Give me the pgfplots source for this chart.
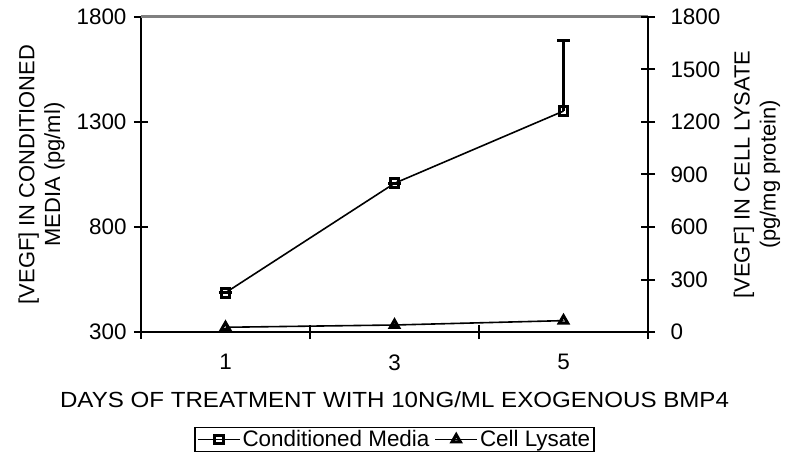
\documentclass[border=0pt]{standalone}
\usepackage{pgfplots}
\pgfplotsset{compat=1.18}
\usepackage{fontspec}
\setmainfont{Liberation Sans}
\newfontfamily\widefont{Liberation Sans}[FakeStretch=1.1]
\begin{document}
\begin{tikzpicture}
\useasboundingbox (-141bp,-130bp) rectangle (645bp,332bp);
\pgfplotsset{
  every axis/.append style={
    scale only axis, width=507bp, height=315bp, at={(0,0)}, anchor=south west,
    xmin=0, xmax=3,
    /pgf/number format/assume math mode=true,
    /pgf/number format/1000 sep={},
    tick label style={font=\fontsize{22.5}{26}\selectfont},
    label style={font=\fontsize{22}{26}\selectfont},
    major tick length=14bp, minor tick length=14bp, tick align=center,
    every tick/.style={line width=2bp, black},
    clip=false,
  }
}
\begin{axis}[
  axis x line*=bottom, axis y line*=left,
  x axis line style={line width=2.8bp, black},
  y axis line style={line width=2.8bp, black},
  ymin=300, ymax=1800, ytick={300,800,1300,1800},
  yticklabel style={xshift=-4bp},
  xtick={0.5,1.5,2.5}, xticklabels={1,3,5},
  major x tick style={draw=none},
  minor xtick={0,1,2,3},
  minor x tick style={line width=2bp, black},
  xticklabel style={yshift=-12bp},
  xlabel={\widefont\fontsize{22}{26}\selectfont DAYS OF TREATMENT WITH 10NG/ML EXOGENOUS BMP4},
  xlabel style={at={(axis description cs:0.5,0)}, anchor=center, yshift=-68bp},
  ylabel={\fontsize{22}{26}\selectfont [VEGF] IN CONDITIONED\\MEDIA (pg/ml)},
  ylabel style={at={(axis description cs:-0.196,0.5)}, anchor=center, align=center, font=\fontsize{22}{26}\selectfont},
]
\draw[line width=3bp, gray] (rel axis cs:0,1) -- (rel axis cs:1,1);
\addplot[black, line width=1.6bp, mark=square, mark size=4.4bp,
  mark options={line width=3bp, fill=white, solid},
  error bars/.cd, y dir=plus, y explicit,
  error bar style={line width=3bp, black},
  error mark options={rotate=90, mark size=6.5bp, line width=3bp}]
  coordinates {(0.5,487) +- (0,0) (1.5,1008) +- (0,0) (2.5,1352) +- (0,335)};
\end{axis}
\begin{axis}[
  axis x line=none, axis y line*=right,
  y axis line style={line width=2.8bp, black},
  ymin=0, ymax=1800, ytick={0,300,600,900,1200,1500,1800},
  yticklabel style={xshift=12bp},
  ylabel={\fontsize{22}{26}\selectfont [VEGF] IN CELL LYSATE\\(pg/mg protein)},
  ylabel style={at={(axis description cs:1.215,0.5)}, anchor=center, align=center, font=\fontsize{22}{26}\selectfont},
  legend columns=2,
  legend style={at={(axis description cs:0.5,-0.3016)}, anchor=north, draw=black, line width=1.2bp,
    font=\fontsize{22.5}{26}\selectfont, inner xsep=2bp, inner ysep=1bp,
    /tikz/every even column/.append style={column sep=3bp}},
  legend cell align=left,
  legend image code/.code={\draw[mark repeat=2,mark phase=2] plot coordinates {(0bp,0bp) (21bp,0bp) (42bp,0bp)};},
]
\addlegendimage{black, line width=1.6bp, mark=square, mark size=4.4bp, mark options={line width=3bp, fill=white, solid}}
\addlegendentry{Conditioned Media}
\addplot[black, line width=1.6bp, mark=triangle, mark size=4.8bp,
  mark options={line width=3bp, fill=white, solid}]
  coordinates {(0.5,27) (1.5,40) (2.5,65)};
\addlegendentry{Cell Lysate}
\end{axis}
\end{tikzpicture}
\end{document}
